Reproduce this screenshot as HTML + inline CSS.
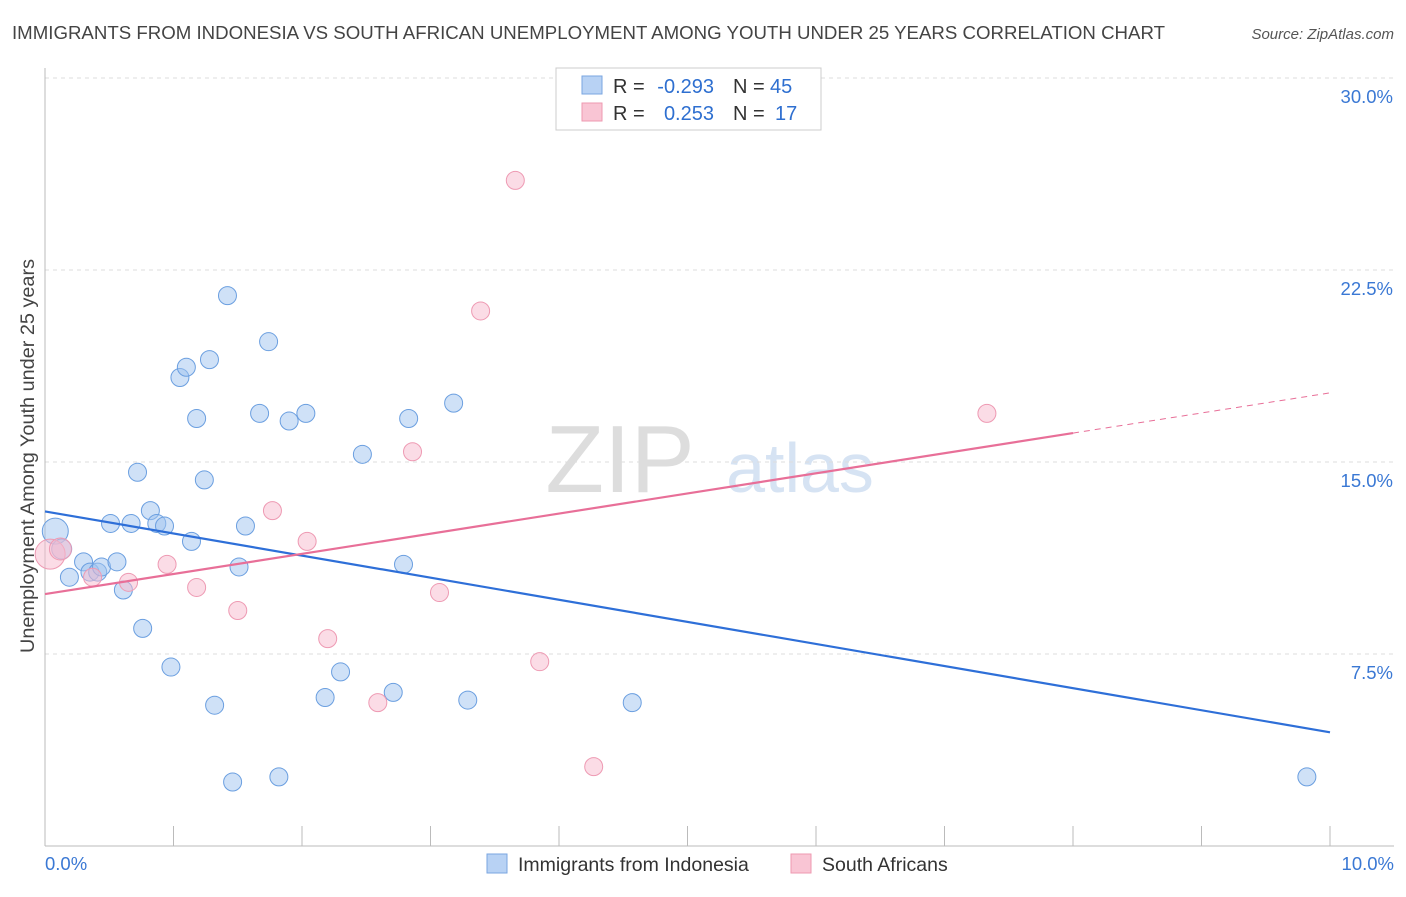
<!DOCTYPE html>
<html><head><meta charset="utf-8"><style>
body{margin:0;background:#fff;font-family:"Liberation Sans",sans-serif;}
svg text{font-family:"Liberation Sans",sans-serif;}
</style></head><body>
<svg id="c" width="1406" height="892">
<text x="12" y="39" font-size="18.5" fill="#444" textLength="1153" lengthAdjust="spacingAndGlyphs">IMMIGRANTS FROM INDONESIA VS SOUTH AFRICAN UNEMPLOYMENT AMONG YOUTH UNDER 25 YEARS CORRELATION CHART</text>
<text x="1394" y="39" font-size="15" fill="#555" font-style="italic" text-anchor="end">Source: ZipAtlas.com</text>
<text x="620" y="492" font-size="96" fill="#ddd" font-family="Liberation Serif" text-anchor="middle">ZIP</text>
<text x="800" y="492" font-size="70" fill="#d6e3f3" text-anchor="middle">atlas</text>
<text transform="translate(34,456) rotate(-90)" font-size="19" fill="#444" text-anchor="middle" textLength="394" lengthAdjust="spacingAndGlyphs">Unemployment Among Youth under 25 years</text>
<g id="grid"></g><g id="marks"></g>
<g font-size="20">
<rect x="556" y="68" width="265" height="62" fill="#fff" stroke="#ccc"/>
<rect x="582" y="76" width="20" height="18" fill="#b8d2f4" stroke="#7aa6e0"/>
<rect x="582" y="103" width="20" height="18" fill="#f9c5d4" stroke="#ee99b0"/>
<text x="613" y="93" fill="#333">R =</text>
<text x="714" y="93" fill="#2e6fd0" text-anchor="end">-0.293</text>
<text x="733" y="93" fill="#333">N =</text>
<text x="770" y="93" fill="#2e6fd0">45</text>
<text x="613" y="120" fill="#333">R =</text>
<text x="714" y="120" fill="#2e6fd0" text-anchor="end">0.253</text>
<text x="733" y="120" fill="#333">N =</text>
<text x="775" y="120" fill="#2e6fd0">17</text>
</g>
<g>
<rect x="487" y="854" width="20" height="19" fill="#b8d2f4" stroke="#7aa6e0"/>
<text x="518" y="871" font-size="19.5" fill="#333">Immigrants from Indonesia</text>
<rect x="791" y="854" width="20" height="19" fill="#f9c5d4" stroke="#ee99b0"/>
<text x="822" y="871" font-size="19.5" fill="#333">South Africans</text>
</g>
</svg>
<script>
const yTicks=[7.5,15,22.5,30];
const yTickLabels=["7.5%","15.0%","22.5%","30.0%"];
const xLabels=["0.0%","10.0%"];
const blueX=[0.08,0.13,0.19,0.3,0.35,0.41,0.44,0.56,0.61,0.51,0.67,0.72,0.76,0.82,0.87,0.93,0.98,1.05,1.1,1.14,1.18,1.24,1.28,1.32,1.42,1.46,1.51,1.56,1.67,1.74,1.82,1.9,2.03,2.18,2.3,2.47,2.71,2.79,2.83,3.18,3.29,4.57,9.82];
const blueY=[12.3,11.6,10.5,11.1,10.7,10.7,10.9,11.1,10.0,12.6,12.6,14.6,8.5,13.1,12.6,12.5,6.99,18.3,18.7,11.9,16.7,14.3,19.0,5.5,21.5,2.5,10.9,12.5,16.9,19.7,2.7,16.6,16.9,5.8,6.8,15.3,6.0,11.0,16.7,17.3,5.7,5.6,2.7];
const pinkX=[0.04,0.12,0.37,0.65,0.95,1.18,1.5,1.77,2.04,2.2,2.59,2.86,3.07,3.39,3.66,3.85,4.27,7.33];
const pinkY=[11.4,11.6,10.5,10.3,11.0,10.1,9.2,13.1,11.9,8.1,5.6,15.4,9.9,20.9,26.0,7.2,3.1,16.9];
const blueSize=[13,10,9,9,9,9,9,9,9,9,9,9,9,9,9,9,9,9,9,9,9,9,9,9,9,9,9,9,9,9,9,9,9,9,9,9,9,9,9,9,9,9,9];
const pinkSize=[15,11,9,9,9,9,9,9,9,9,9,9,9,9,9,9,9,9];
const blueLine=[[0,13.07],[10,4.44]];
const pinkSolid=[[0,9.84],[8,16.13]];
const pinkDash=[[8,16.13],[10,17.7]];
const X=v=>45+v*128.5, Y=v=>846-v*25.6;
const NS="http://www.w3.org/2000/svg";
function mk(t,a,p){const e=document.createElementNS(NS,t);for(const k in a)e.setAttribute(k,a[k]);p.appendChild(e);return e;}
const g=document.getElementById('grid'),m=document.getElementById('marks');
yTicks.forEach((t,i)=>{
 const l=mk('line',{x1:45,x2:1394,y1:Y(t),y2:Y(t),stroke:'#ddd','stroke-dasharray':'4,4'},g);
 
 
 const tx=mk('text',{x:1393,y:Y(t)+25,'font-size':18.5,fill:'#3a78d4','text-anchor':'end'},g);tx.textContent=yTickLabels[i];
 
 
});
mk('line',{x1:45,x2:45,y1:68,y2:846,stroke:'#bbb'},g);
mk('line',{x1:45,x2:1394,y1:846,y2:846,stroke:'#bbb'},g);
for(let i=1;i<=10;i++){mk('line',{x1:X(i),x2:X(i),y1:826,y2:846,stroke:'#bbb'},g);}
[[0,'start',45],[1,'end',1394]].forEach(([i,a,x])=>{const t=mk('text',{x:x,y:870,'font-size':18.5,fill:'#3a78d4','text-anchor':a},g);t.textContent=xLabels[i];
 
 });
blueX.forEach((v,i)=>{const c=mk('circle',{cx:X(v),cy:Y(blueY[i]),r:blueSize[i],fill:'rgba(160,195,240,0.5)',stroke:'#6b9fe0','stroke-width':1},m);
 
 });
pinkX.forEach((v,i)=>{const c=mk('circle',{cx:X(v),cy:Y(pinkY[i]),r:pinkSize[i],fill:'rgba(248,185,205,0.5)',stroke:'#ee9ab3','stroke-width':1},m);
 
 });
function line(p,col,dash,name){const l=mk('line',{x1:X(p[0][0]),y1:Y(p[0][1]),x2:X(p[1][0]),y2:Y(p[1][1]),stroke:col,'stroke-width':dash?1:2.2},m);if(dash)l.setAttribute('stroke-dasharray','6,5');
 
 }
line(blueLine,'#2e6fd8',false,'indonesia-trendline');
line(pinkSolid,'#e86f98',false,'south-african-trendline');
line(pinkDash,'#e86f98',true,'south-african-trendline-extension');
</script>
</body></html>
